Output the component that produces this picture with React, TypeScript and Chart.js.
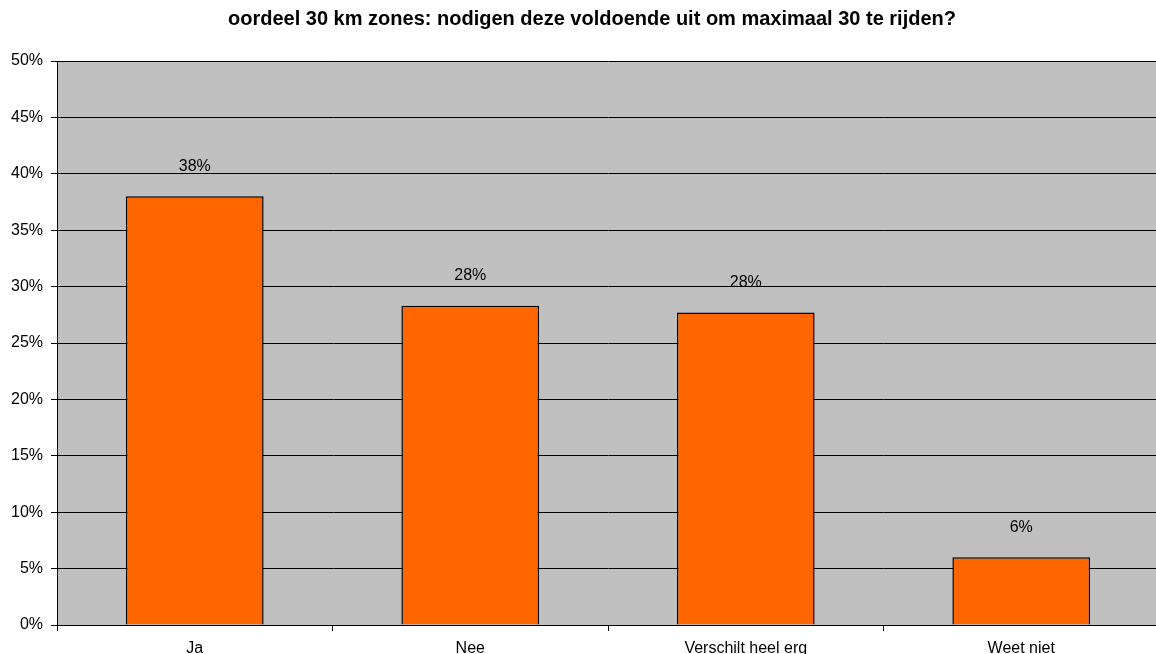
import React, { useEffect, useRef } from "react";
import { Chart, registerables } from "chart.js";

Chart.register(...registerables);

const TITLE = "oordeel 30 km zones: nodigen deze voldoende uit om maximaal 30 te rijden?";
const categories = ["Ja", "Nee", "Verschilt heel erg", "Weet niet"];
const values = [38, 28.3, 27.7, 6];
const valueLabels = ["38%", "28%", "28%", "6%"];
const yTicks = [0, 5, 10, 15, 20, 25, 30, 35, 40, 45, 50];

const FONT = "'Liberation Sans', Arial, sans-serif";

const bgPlugin = {
  id: "plotBg",
  beforeDraw(chart: any) {
    const { ctx, chartArea: a } = chart;
    ctx.save();
    ctx.fillStyle = "#C0C0C0";
    ctx.fillRect(a.left, a.top, a.right - a.left, a.bottom - a.top);
    ctx.restore();
  },
};

const labelPlugin = {
  id: "valLabels",
  afterDatasetsDraw(chart: any) {
    const { ctx } = chart;
    const meta = chart.getDatasetMeta(0);
    ctx.save();
    ctx.fillStyle = "#000";
    ctx.font = `16px ${FONT}`;
    ctx.textAlign = "center";
    ctx.textBaseline = "middle";
    meta.data.forEach((el: any, i: number) => {
      ctx.fillText(valueLabels[i], el.x, el.y - 30);
    });
    ctx.font = `bold 20px ${FONT}`;
    ctx.fillText(TITLE, 592, 19);
    ctx.restore();
  },
};

export default function App() {
  const ref = useRef<HTMLCanvasElement>(null);
  useEffect(() => {
    document.body.style.overflow = "hidden";
    const chart = new Chart(ref.current!, {
      type: "bar",
      data: {
        labels: categories,
        datasets: [
          {
            data: values,
            backgroundColor: "#FF6600",
            borderColor: "#000000",
            borderWidth: 1.5,
            barPercentage: 0.5,
            categoryPercentage: 1,
          },
        ],
      },
      plugins: [bgPlugin, labelPlugin],
      options: {
        animation: false,
        responsive: false,
        maintainAspectRatio: false,
        layout: { padding: { top: 61, right: 1, left: 0, bottom: 0 } },
        plugins: { legend: { display: false }, tooltip: { enabled: false }, title: { display: false } },
        scales: {
          x: {
            offset: true,
            grid: {
              offset: true,
              drawOnChartArea: false,
              drawTicks: true,
              tickLength: 6,
              color: "#000",
            },
            border: { color: "#000", width: 1 },
            ticks: { color: "#000", font: { family: FONT, size: 16 }, padding: 8, maxRotation: 0 },
            afterFit(s: any) {
              s.height = 29;
            },
          },
          y: {
            min: 0,
            max: 50,
            afterBuildTicks(s: any) {
              s.ticks = yTicks.map((v) => ({ value: v }));
            },
            grid: { color: "#000", lineWidth: 1, tickLength: 6 },
            border: { color: "#000", width: 1 },
            ticks: {
              color: "#000",
              font: { family: FONT, size: 16 },
              padding: 8,
              callback: (v: any) => `${v}%`,
            },
            afterFit(s: any) {
              s.width = 57;
            },
          },
        },
      },
    });
    return () => chart.destroy();
  }, []);
  return (
    <div style={{ position: "fixed", left: 0, top: 0, width: 1160, height: 654 }}>
      <canvas ref={ref} width={1160} height={654} style={{ width: 1160, height: 654 }} />
    </div>
  );
}
